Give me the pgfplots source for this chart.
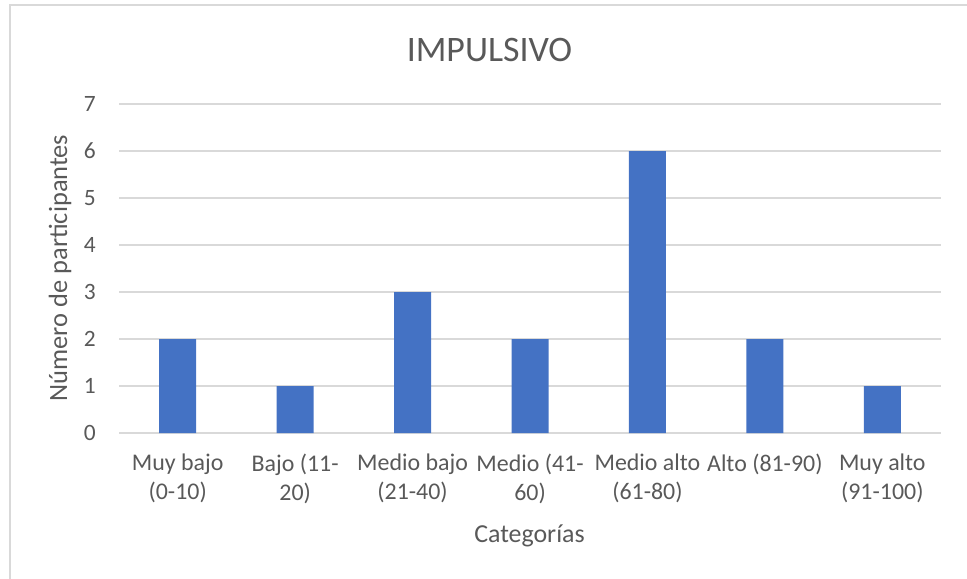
\documentclass[border=0pt]{standalone}
\usepackage{fontspec}
\setmainfont{Carlito}
\usepackage{pgfplots}
\pgfplotsset{compat=1.18}
\definecolor{barblue}{HTML}{4472C4}
\definecolor{gridgray}{HTML}{D9D9D9}
\definecolor{txt}{HTML}{595959}
\begin{document}
\begin{tikzpicture}[x=1bp,y=1bp]
\path[use as bounding box] (0,0) rectangle (967,-579);
\draw[gridgray, line width=1.5bp] (10,-579) -- (10,-5) -- (967,-5);
\begin{axis}[
  at={(119bp,-433bp)}, anchor=south west,
  width=822bp, height=329bp, scale only axis,
  xmin=-0.5, xmax=6.5, ymin=0, ymax=7,
  ytick={0,1,2,3,4,5,6,7},
  xtick={0,1,2,3,4,5,6},
  xticklabels={{Muy bajo\\(0-10)},{Bajo (11-\\20)},{Medio bajo\\(21-40)},{Medio (41-\\60)},{Medio alto\\(61-80)},{Alto (81-90)},{Muy alto\\(91-100)}},
  axis line style={draw=none},
  major tick length=0pt,
  ymajorgrids, grid style={gridgray, line width=1.2bp},
  ybar, bar width=37bp,
  xticklabel style={anchor=north, inner sep=0pt, yshift=-21bp, align=center, text=txt, font=\fontsize{24}{29}\selectfont},
  yticklabel style={anchor=east, inner sep=0pt, xshift=-23bp, text=txt, font=\fontsize{23.5}{28}\selectfont},
  /pgf/number format/assume math mode=true,
]
\addplot[fill=barblue, draw=none] coordinates {(0,2) (1,1) (2,3) (3,2) (4,6) (5,2) (6,1)};
\end{axis}
\node[anchor=base, text=txt, font=\fontsize{36}{43}\selectfont] at (489.5,-62) {IMPULSIVO};
\node[anchor=base, text=txt, font=\fontsize{26}{31}\selectfont] at (529.5,-542) {Categorías};
\node[anchor=base, rotate=90, text=txt, font=\fontsize{26.5}{31}\selectfont] at (67,-268) {Número de participantes};
\end{tikzpicture}
\end{document}
